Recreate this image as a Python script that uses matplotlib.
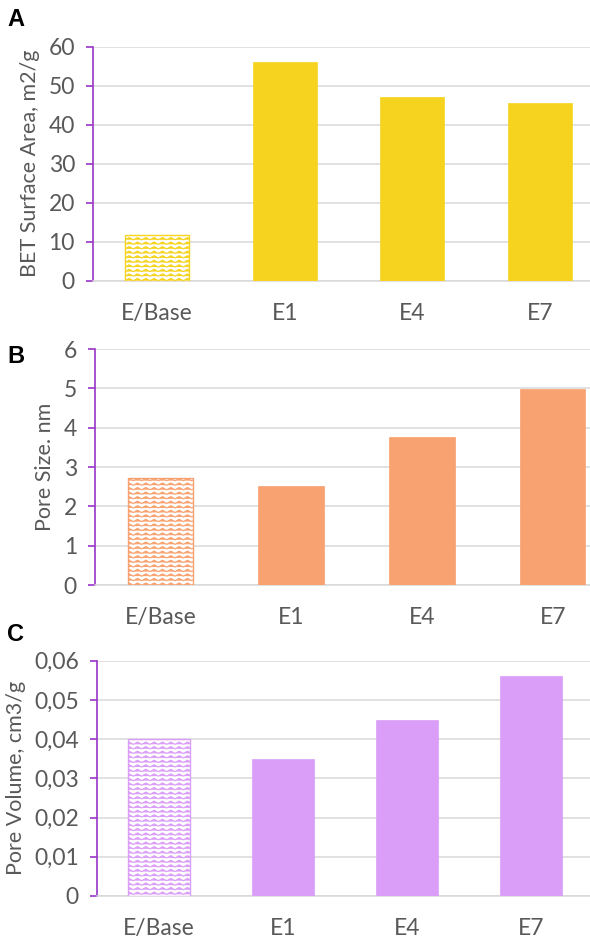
import warnings

import matplotlib
matplotlib.use("Agg")
import matplotlib.pyplot as plt
import numpy as np
from matplotlib import hatch as mhatch
from matplotlib.path import Path
from matplotlib.ticker import FuncFormatter, MultipleLocator

samples = ["E/Base", "E1", "E4", "E7"]
surface_area = [11.8, 56.2, 47.0, 45.5]
pore_size = [2.73, 2.52, 3.77, 4.98]
pore_volume = [0.040, 0.035, 0.045, 0.0562]


class ZigZagHatch(mhatch.HatchPatternBase):
    """Wavy zigzag rows, used with hatch='z'."""

    def __init__(self, hatch, density):
        self.rows = 22 if "z" in hatch else 0
        self.periods = 12
        self.amp = 0.5 / 22
        self.num_vertices = self.rows * (2 * self.periods + 1)

    def set_vertices_and_codes(self, vertices, codes):
        n = 2 * self.periods + 1
        xs = np.linspace(0, 1, n)
        offs = np.where(np.arange(n) % 2 == 0, -self.amp / 2, self.amp / 2)
        for i in range(self.rows):
            y0 = (i + 0.5) / self.rows
            vertices[i * n:(i + 1) * n, 0] = xs
            vertices[i * n:(i + 1) * n, 1] = y0 + offs
            codes[i * n] = Path.MOVETO
            codes[i * n + 1:(i + 1) * n] = Path.LINETO


mhatch._hatch_types.append(ZigZagHatch)
warnings.filterwarnings("ignore", message=".*hatch must consist.*")

plt.rcParams["font.family"] = ["Lato", "DejaVu Sans"]
plt.rcParams["hatch.linewidth"] = 0.8

TEXT = "#595959"
GRID = "#D9D9D9"
SPINE = "#9A35C8"

fig = plt.figure(figsize=(5.9, 9.44), dpi=100)
W, H = 590, 944


def panel(rect_px, values, color, ymax, ystep, ylabel, letter, letter_xy, fmt=None):
    x0, x1, ytop, ybot = rect_px
    ax = fig.add_axes([x0 / W, 1 - ybot / H, (x1 - x0) / W, (ybot - ytop) / H])
    x = np.arange(len(samples))
    bars = ax.bar(x, values, width=0.5, color=color, edgecolor=color, linewidth=0.5, zorder=3)
    # first sample drawn as an outline with a wavy fill
    bars[0].set_facecolor("white")
    bars[0].set_hatch("z")
    bars[0].set_linewidth(1.0)

    ax.set_xlim(-0.5, len(samples) - 0.5)
    ax.set_ylim(0, ymax)
    ax.yaxis.set_major_locator(MultipleLocator(ystep))
    if fmt is not None:
        ax.yaxis.set_major_formatter(FuncFormatter(fmt))
    ax.set_xticks(x)
    ax.set_xticklabels(samples)

    ax.grid(axis="y", color=GRID, linewidth=1.1, zorder=0)
    ax.set_axisbelow(True)
    for s in ("top", "right"):
        ax.spines[s].set_visible(False)
    ax.spines["bottom"].set_color(GRID)
    ax.spines["bottom"].set_linewidth(1.1)
    ax.spines["left"].set_color(SPINE)
    ax.spines["left"].set_linewidth(1.2)

    ax.tick_params(axis="y", colors=SPINE, length=5, width=1.2, pad=8,
                   labelcolor=TEXT, labelsize=16.5)
    ax.tick_params(axis="x", length=0, pad=16, labelcolor=TEXT, labelsize=16.5)
    ax.set_ylabel(ylabel, color=TEXT, fontsize=15.5, labelpad=6)

    fig.text(letter_xy[0] / W, 1 - letter_xy[1] / H, letter, fontsize=17,
             fontweight="bold", family="Liberation Sans", ha="left", va="top")
    return ax


def comma_fmt(v, pos):
    return "0" if abs(v) < 1e-12 else f"{v:.2f}".replace(".", ",")


panel((93, 604, 46.7, 280.7), surface_area, "#F6D31F", 60, 10,
      "BET Surface Area, m2/g", "A", (7, 8))
panel((95, 618, 349, 585), pore_size, "#F8A271", 6, 1,
      "Pore Size. nm", "B", (7, 345))
panel((97, 593, 660.7, 896), pore_volume, "#DB9EF8", 0.06, 0.01,
      "Pore Volume, cm3/g", "C", (7, 623), fmt=comma_fmt)

fig.savefig("out.png", dpi=100)
